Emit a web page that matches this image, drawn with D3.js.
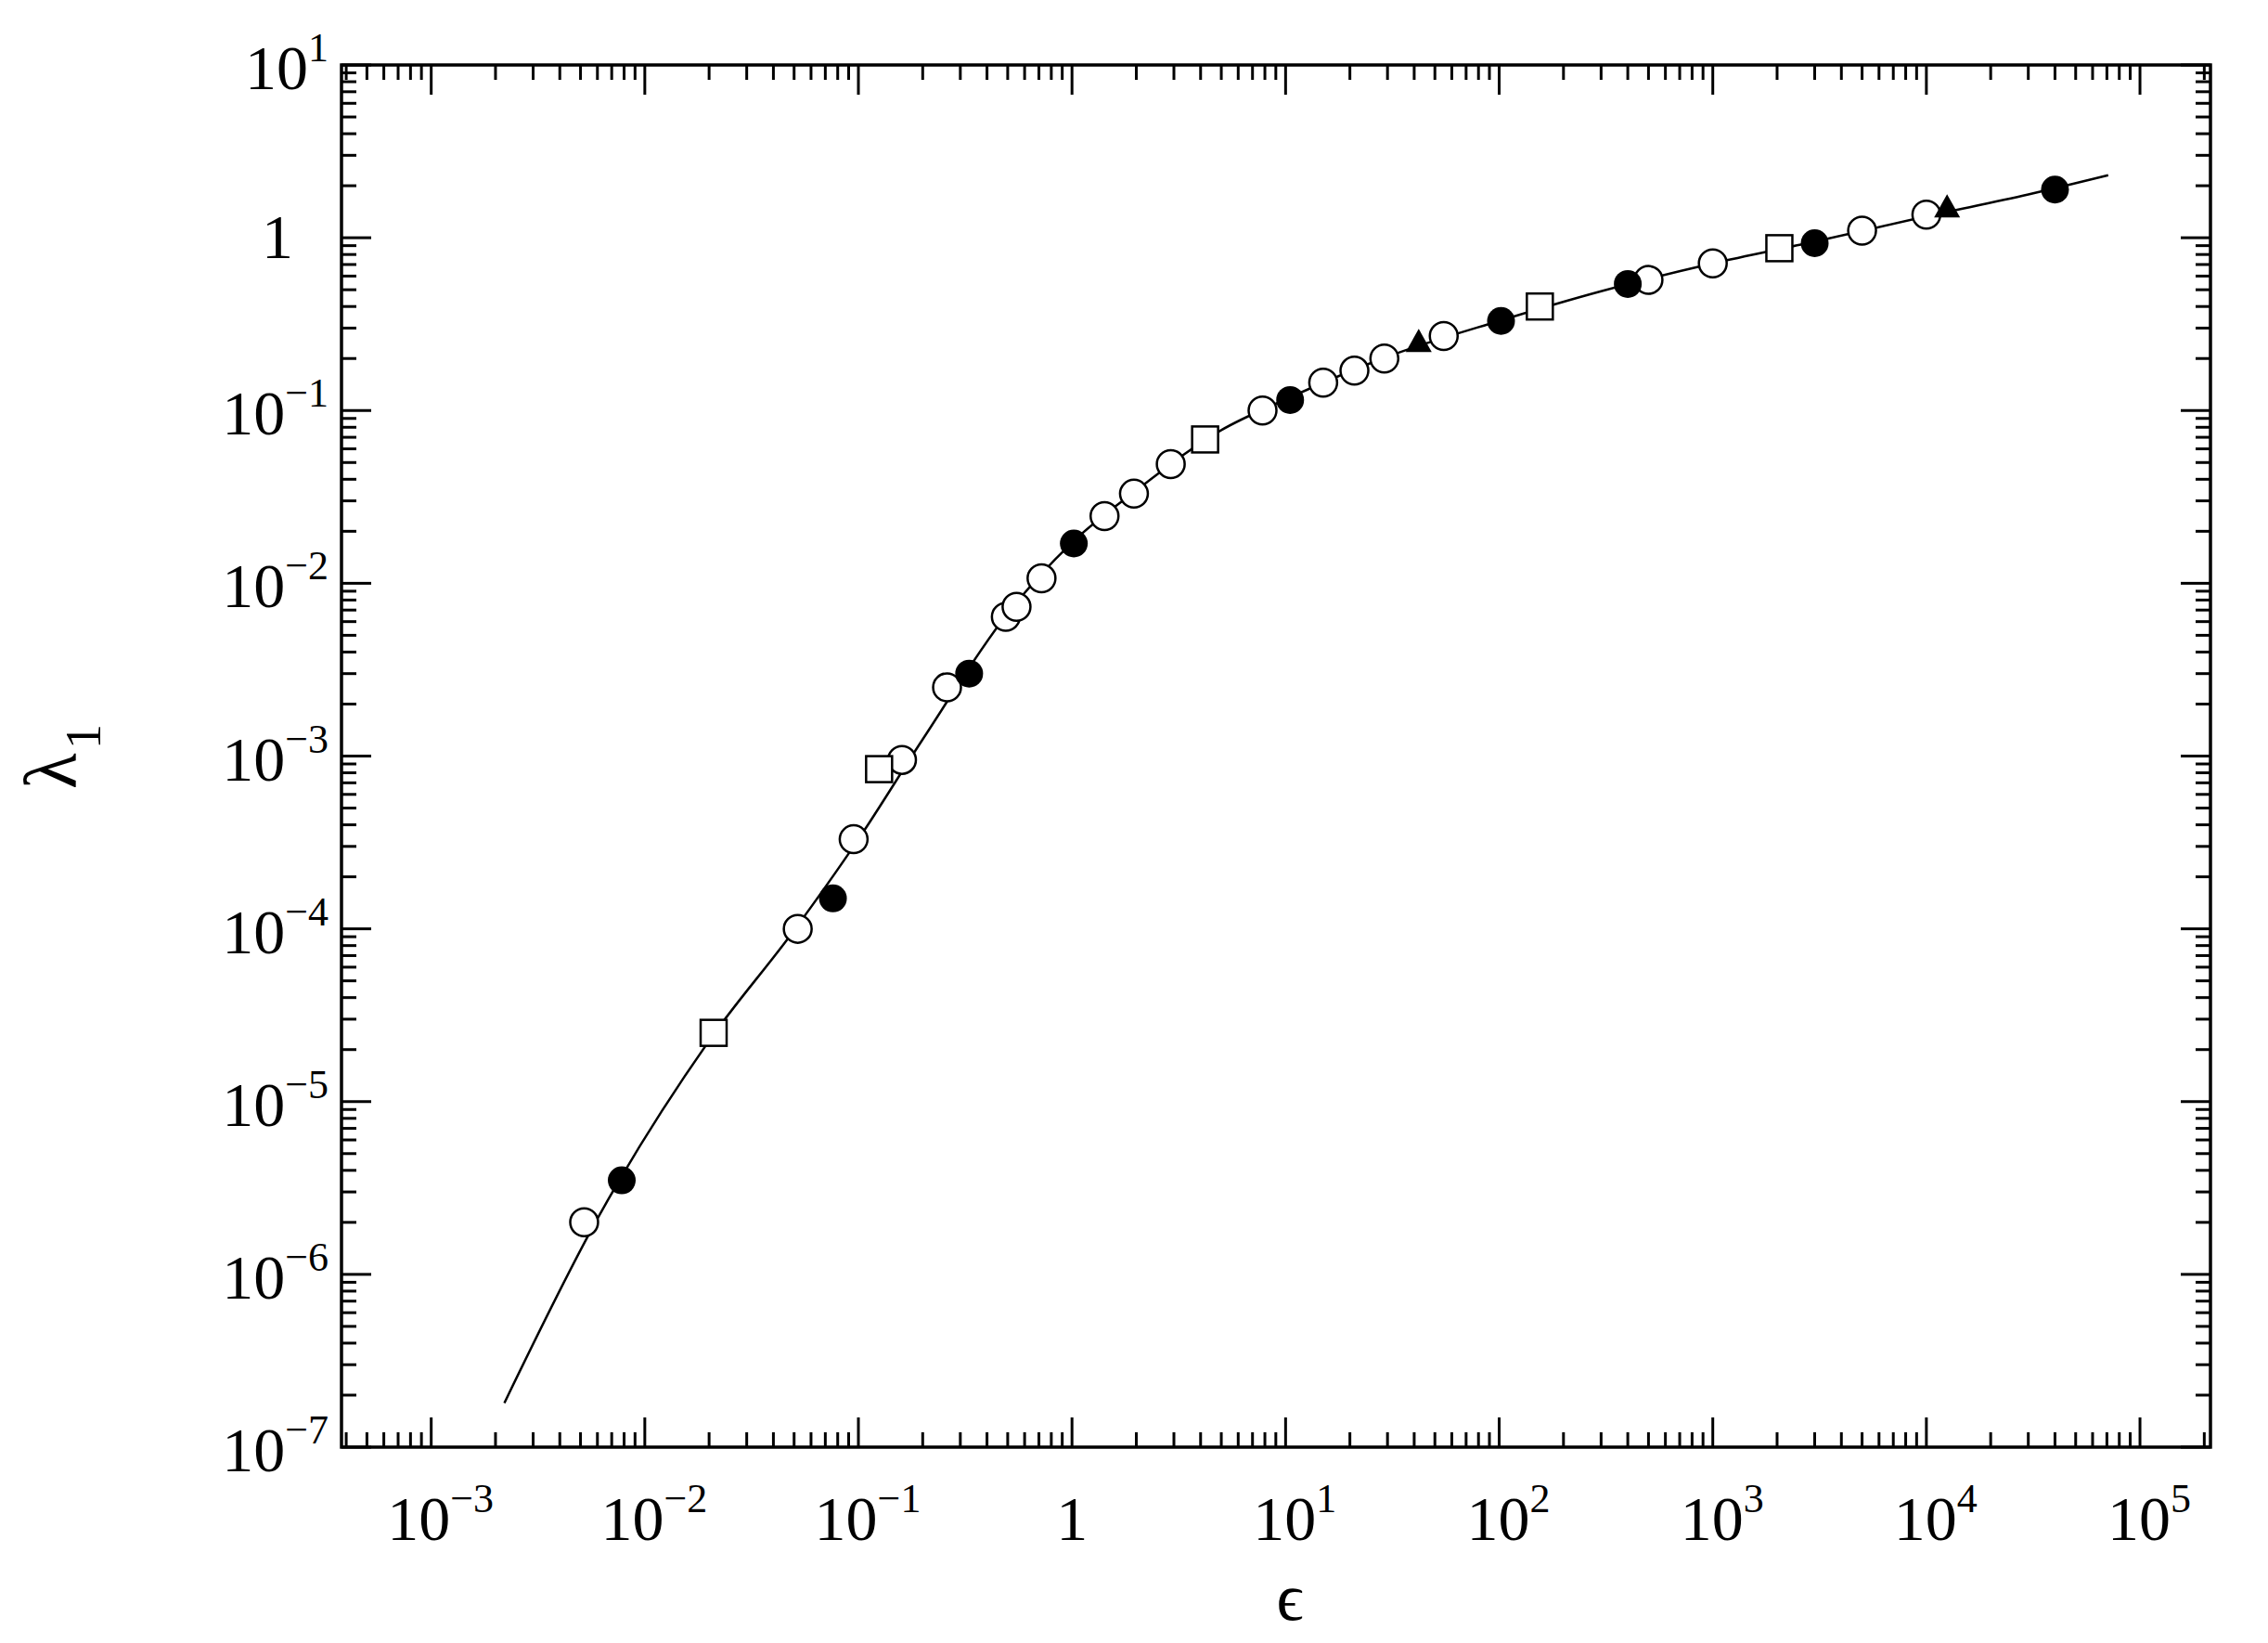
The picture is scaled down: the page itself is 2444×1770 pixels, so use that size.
<!DOCTYPE html><html><head><script src="https://cdn.jsdelivr.net/npm/d3@7"></script>
<style>body{margin:0;background:#fff}text{font-family:"Liberation Serif","DejaVu Serif",serif}</style></head><body>
<svg id="c" width="2444" height="1770"></svg>
<script>
const openCircles=[[0.0052,2.0e-6],[0.052,1.0e-4],[0.095,3.3e-4],[0.16,9.5e-4],[0.26,2.5e-3],[0.49,6.4e-3],[0.55,7.3e-3],[0.72,1.07e-2],[1.42,2.45e-2],[1.95,3.3e-2],[2.9,4.9e-2],[7.8,0.1],[15,0.145],[21,0.17],[29,0.2],[55,0.27],[500,0.57],[1000,0.71],[5000,1.1],[10000,1.36]];
const filledCircles=[[0.0078,3.5e-6],[0.076,1.5e-4],[0.33,3.0e-3],[1.02,1.7e-2],[10.5,0.115],[102,0.33],[400,0.54],[3000,0.93],[40000,1.9]];
const squares=[[0.021,2.5e-5],[0.125,8.4e-4],[4.2,0.068],[155,0.4],[2050,0.87]];
const triangles=[[42,0.25],[12500,1.5]];
const curve=[[0.0022,1.8e-7],[0.006,2.1e-6],[0.02,2.25e-5],[0.05,9.8e-5],[0.1,3.3e-4],[0.2,1.25e-3],[0.5,6.7e-3],[1,1.72e-2],[2,3.45e-2],[5,7.7e-2],[10,0.116],[30,0.205],[100,0.33],[300,0.49],[1000,0.71],[3000,0.95],[10000,1.33],[30000,1.78],[71000,2.3]];
const xTickExp=[-3,-2,-1,0,1,2,3,4,5];
const yTickExp=[-7,-6,-5,-4,-3,-2,-1,0,1];

const L=368,R=2382,T=70,B=1559;
const svg=d3.select("#c");
const x=d3.scaleLog().domain([Math.pow(10,-3.42),Math.pow(10,5.33)]).range([L,R]);
const y=d3.scaleLog().domain([1e-7,10]).range([B,T]);
const g=svg.append("g");
g.append("rect").attr("x",L).attr("y",T).attr("width",R-L).attr("height",B-T).attr("fill","none").attr("stroke","#000").attr("stroke-width",3.5);
function minorVals(lo,hi){const a=[];for(let e=Math.floor(lo);e<=Math.ceil(hi);e++)for(let m=1;m<10;m++){const v=m*Math.pow(10,e);if(Math.log10(v)>=lo&&Math.log10(v)<=hi)a.push([v,m===1]);}return a;}
minorVals(-3.42,5.33).forEach(([v,maj])=>{const px=x(v),len=maj?32:16;
 g.append("line").attr("x1",px).attr("x2",px).attr("y1",B).attr("y2",B-len).attr("stroke","#000").attr("stroke-width",3);
 g.append("line").attr("x1",px).attr("x2",px).attr("y1",T).attr("y2",T+len).attr("stroke","#000").attr("stroke-width",3);});
minorVals(-7,1).forEach(([v,maj])=>{const py=y(v),len=maj?32:16;
 g.append("line").attr("y1",py).attr("y2",py).attr("x1",L).attr("x2",L+len).attr("stroke","#000").attr("stroke-width",3);
 g.append("line").attr("y1",py).attr("y2",py).attr("x1",R).attr("x2",R-len).attr("stroke","#000").attr("stroke-width",3);});
function lab(e,px,py,anchor){const tx=g.append("text").attr("x",px).attr("y",py).attr("text-anchor",anchor).attr("font-size",68);
 if(e===0){tx.text("1");}else{tx.append("tspan").text("10");tx.append("tspan").attr("dy",-30).attr("font-size",44).text((e<0?"\u2212":"")+Math.abs(e));}}
xTickExp.forEach(e=>lab(e,x(Math.pow(10,e))+(e===0?0:10),B+100,"middle"));
yTickExp.forEach(e=>lab(e,L-(e===0?52:14),y(Math.pow(10,e))+(e===0?22:26),"end"));
g.append("text").attr("x",(L+R)/2+15).attr("y",1745).attr("text-anchor","middle").attr("font-size",72).text("\u03f5");
const yl=g.append("text").attr("transform","translate(82,815) rotate(-90)").attr("text-anchor","middle").attr("font-size",80);
yl.append("tspan").text("\u03bb");yl.append("tspan").attr("font-size",54).attr("dy",26).attr("dx",4).text("1");
g.append("path").datum(curve).attr("d",d3.line().x(d=>x(d[0])).y(d=>y(d[1])).curve(d3.curveMonotoneX)).attr("fill","none").attr("stroke","#000").attr("stroke-width",2.5);
const r=15;
g.selectAll(".oc").data(openCircles).join("circle").attr("cx",d=>x(d[0])).attr("cy",d=>y(d[1])).attr("r",r).attr("fill","#fff").attr("stroke","#000").attr("stroke-width",2.5);
g.selectAll(".fc").data(filledCircles).join("circle").attr("cx",d=>x(d[0])).attr("cy",d=>y(d[1])).attr("r",r).attr("fill","#000");
g.selectAll(".sq").data(squares).join("rect").attr("x",d=>x(d[0])-14).attr("y",d=>y(d[1])-14).attr("width",28).attr("height",28).attr("fill","#fff").attr("stroke","#000").attr("stroke-width",2.5);
g.selectAll(".tr").data(triangles).join("path").attr("transform",d=>`translate(${x(d[0])},${y(d[1])})`).attr("d","M0,-14L14,11L-14,11Z").attr("fill","#000");
</script></body></html>
